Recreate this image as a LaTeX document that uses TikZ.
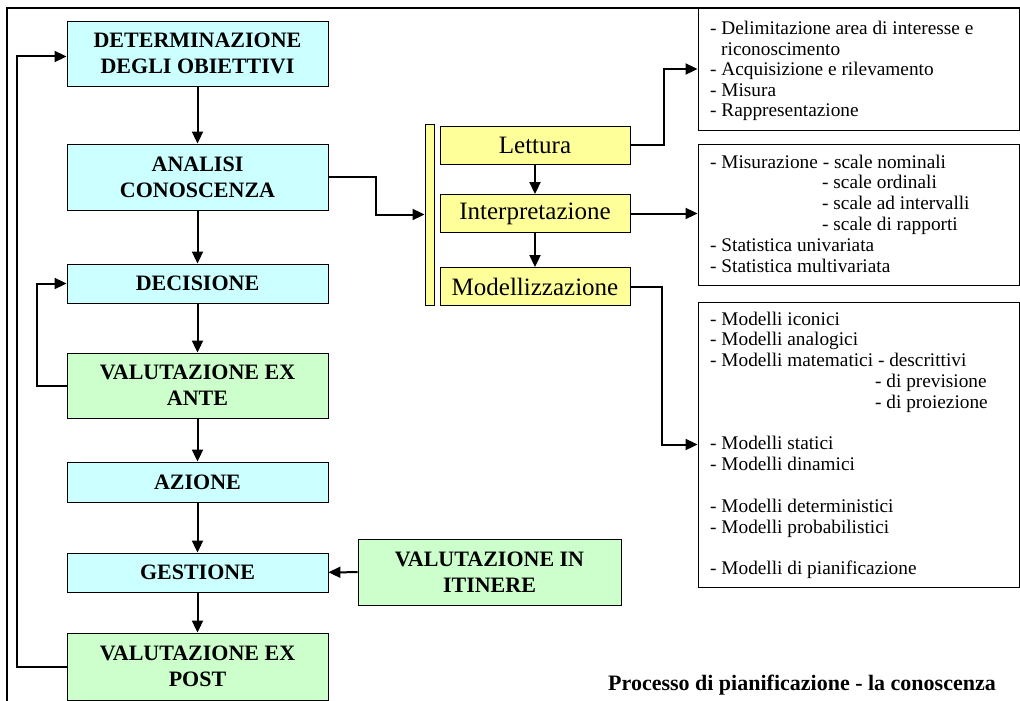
\documentclass[tikz,border=0pt]{standalone}
\usepackage{fontspec}
\setmainfont{Liberation Serif}
\usetikzlibrary{arrows.meta}
\definecolor{cy}{HTML}{CCFFFF}
\definecolor{gr}{HTML}{CCFFCC}
\definecolor{ye}{HTML}{FFFF99}
\begin{document}
\begin{tikzpicture}[x=1pt,y=-1pt,
  bx/.style={draw=black, line width=0.9pt, inner sep=0pt, align=center,
     minimum width=261pt, font=\fontsize{22}{26}\selectfont\bfseries},
  cbox/.style={bx, fill=cy},
  gbox/.style={bx, fill=gr},
  ybox/.style={draw=black, line width=0.9pt, fill=ye, inner sep=0pt,
     minimum width=190pt, minimum height=38pt, font=\fontsize{25}{27}\selectfont},
  rbox/.style={draw=black, line width=0.9pt, inner sep=0pt, minimum width=321pt},
  txt/.style={inner sep=0pt, anchor=base west, font=\fontsize{19.3}{21}\selectfont},
  arr/.style={line width=2pt, -{Triangle[length=12pt,width=11pt]}}]
\useasboundingbox (0,0) rectangle (1020,701);
\fill[white] (0,0) rectangle (1020,701);
% frame
\draw[line width=1.3pt] (7,705) -- (7,8) -- (1025,8);
% left column
\node[cbox, minimum height=65pt] (det) at (197.5,53.5) {DETERMINAZIONE\\DEGLI OBIETTIVI};
\node[cbox, minimum height=66pt] (ana) at (197.5,177) {ANALISI\\CONOSCENZA};
\node[cbox, minimum height=39pt] (dec) at (197.5,283.5) {DECISIONE};
\node[gbox, minimum height=65pt] (exa) at (197.5,385.5) {VALUTAZIONE EX\\ANTE};
\node[cbox, minimum height=40pt] (azi) at (197.5,482) {AZIONE};
\node[cbox, minimum height=39pt] (ges) at (197.5,572.5) {GESTIONE};
\node[gbox, minimum height=67pt] (exp) at (197.5,666.5) {VALUTAZIONE EX\\POST};
\node[gbox, minimum height=66pt, minimum width=263pt] (iti) at (489.5,572) {VALUTAZIONE IN\\ITINERE};
% yellow
\node[draw=black, line width=0.9pt, fill=ye, inner sep=0pt, minimum width=9pt, minimum height=181pt] (bar) at (429.5,214.5) {};
\node[ybox] (let) at (535,145) {Lettura};
\node[ybox] (int) at (535,213.5) {Interpretazione};
\node[ybox] (mod) at (535,286.5) {Modellizzazione};
% right boxes
\node[rbox, minimum height=122pt] (b1) at (858.5,69) {};
\node[rbox, minimum height=141pt] (b2) at (858.5,214.5) {};
\node[rbox, minimum height=285pt] (b3) at (858.5,444.5) {};
\foreach \x/\k/\t in {710/0/{- Delimitazione area di interesse e}, 721/1/{riconoscimento},
   710/2/{- Acquisizione e rilevamento}, 710/3/{- Misura}, 710/4/{- Rappresentazione}}
  \node[txt] (pa\k) at (\x,{34.5+20.6*\k}) {\t};
\foreach \x/\k/\t in {710/0/{- Misurazione - scale nominali}, 822/1/{- scale ordinali},
   822/2/{- scale ad intervalli}, 822/3/{- scale di rapporti},
   710/4/{- Statistica univariata}, 710/5/{- Statistica multivariata}}
  \node[txt] (pb\k) at (\x,{168+20.8*\k}) {\t};
\foreach \x/\k/\t in {710/0/{- Modelli iconici}, 710/1/{- Modelli analogici},
   710/2/{- Modelli matematici - descrittivi}, 875/3/{- di previsione}, 875/4/{- di proiezione},
   710/6/{- Modelli statici}, 710/7/{- Modelli dinamici},
   710/9/{- Modelli deterministici}, 710/10/{- Modelli probabilistici},
   710/12/{- Modelli di pianificazione}}
  \node[txt] (pc\k) at (\x,{325+20.8*\k}) {\t};
\node[inner sep=0pt, anchor=base west, font=\fontsize{22}{24}\selectfont\bfseries] (cap) at (608,690) {Processo di pianificazione - la conoscenza};
% connectors left column
\draw[arr] (det) -- (ana);
\draw[arr] (ana) -- (dec);
\draw[arr] (dec) -- (exa);
\draw[arr] (exa) -- (azi);
\draw[arr] (azi) -- (ges);
\draw[arr] (ges) -- (exp);
\draw[arr] (iti) -- (ges);
\draw[arr] (exa.west) -- ++(-30,0) |- (dec.west);
\draw[arr] (exp.west) -- ++(-50,0) |- ([yshift=-3pt]det.west);
% to yellow
\draw[arr] (ana.east) -- ++(48,0) |- (bar.west);
\draw[arr] (let) -- (int);
\draw[arr] (int) -- (mod);
% to right boxes
\draw[arr] (let.east) -- ++(34,0) |- (b1.west);
\draw[arr] (int.east) -- (int.east -| b2.west);
\draw[arr] (mod.east) -- ++(32,0) |- (b3.west);
\end{tikzpicture}
\end{document}
